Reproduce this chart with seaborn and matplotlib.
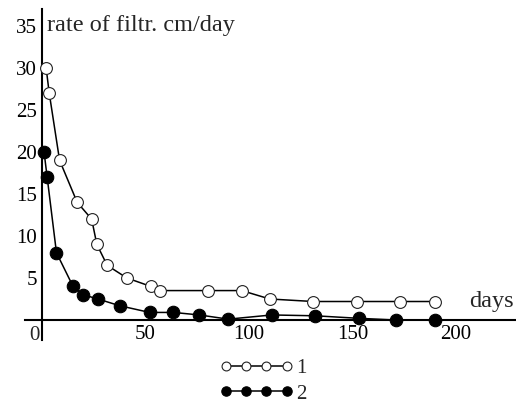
import matplotlib
matplotlib.use("Agg")
import matplotlib.pyplot as plt
import seaborn as sns
import numpy as np

# Data
days_1 = [2, 3.5, 8.5, 17, 24, 26.5, 31.5, 41, 52.5, 57, 80, 96.5, 110, 131, 152, 173, 190]
rate_1 = [30, 27, 19, 14, 12, 9, 6.5, 5, 4, 3.5, 3.5, 3.5, 2.5, 2.2, 2.2, 2.2, 2.2]

days_2 = [1, 2.5, 7, 15, 20, 27, 37.5, 52, 63.5, 76, 90, 111, 132, 153, 171, 190]
rate_2 = [20, 17, 8, 4, 3, 2.5, 1.7, 0.9, 0.9, 0.6, 0.1, 0.6, 0.5, 0.2, 0, 0]

series_labels = ["1", "2"]
x_ticks = [50, 100, 150, 200]
y_ticks = [5, 10, 15, 20, 25, 30, 35]
y_title = "rate of filtr. cm/day"
x_title = "days"

sns.set_style("white")
plt.rcParams["font.family"] = ["Liberation Serif", "DejaVu Serif"]

fig = plt.figure(figsize=(5.16, 4.04), dpi=100)
ax = fig.add_axes([25 / 516, 1 - 340 / 404, 490 / 516, 331 / 404])

sns.lineplot(x=days_1, y=rate_1, ax=ax, color="black", lw=1.1, marker="o",
             markersize=8.5, markerfacecolor="white", markeredgecolor="#222222",
             markeredgewidth=0.8, estimator=None, sort=False, clip_on=False,
             label=series_labels[0], legend=False, zorder=3)
sns.lineplot(x=days_2, y=rate_2, ax=ax, color="black", lw=1.1, marker="o",
             markersize=9, markerfacecolor="black", markeredgecolor="black",
             markeredgewidth=0.8, estimator=None, sort=False, clip_on=False,
             label=series_labels[1], legend=False, zorder=3)

ax.set_xlim(-8.2, 228.5)
ax.set_ylim(-2.38, 37.0)

for s in ["top", "right"]:
    ax.spines[s].set_visible(False)
ax.spines["left"].set_position(("data", 0))
ax.spines["bottom"].set_position(("data", 0))
for s in ["left", "bottom"]:
    ax.spines[s].set_linewidth(1.5)
    ax.spines[s].set_color("black")

ax.set_xticks(x_ticks)
ax.set_yticks(y_ticks)
ax.tick_params(axis="both", direction="inout", length=5, width=1.2,
               labelsize=15, colors="black")
ax.tick_params(axis="x", pad=1)
ax.tick_params(axis="y", pad=1)

ax.annotate("0", xy=(0, 0), xytext=(-2, -4), textcoords="offset points",
            ha="right", va="top", fontsize=15)
ax.text(2.4, 34.4, y_title, ha="left", va="baseline", fontsize=17.5)
ax.text(206.3, 1.55, x_title, ha="left", va="baseline", fontsize=17.5)

handles = ax.get_lines()[:2]
leg = fig.legend(handles, series_labels, loc="center",
                 bbox_to_anchor=(0.51, 0.057), frameon=False, numpoints=4,
                 handlelength=3.5, handletextpad=0.15, labelspacing=0.3,
                 fontsize=15, markerscale=0.75, borderpad=0)

fig.savefig("out.png", dpi=100)
